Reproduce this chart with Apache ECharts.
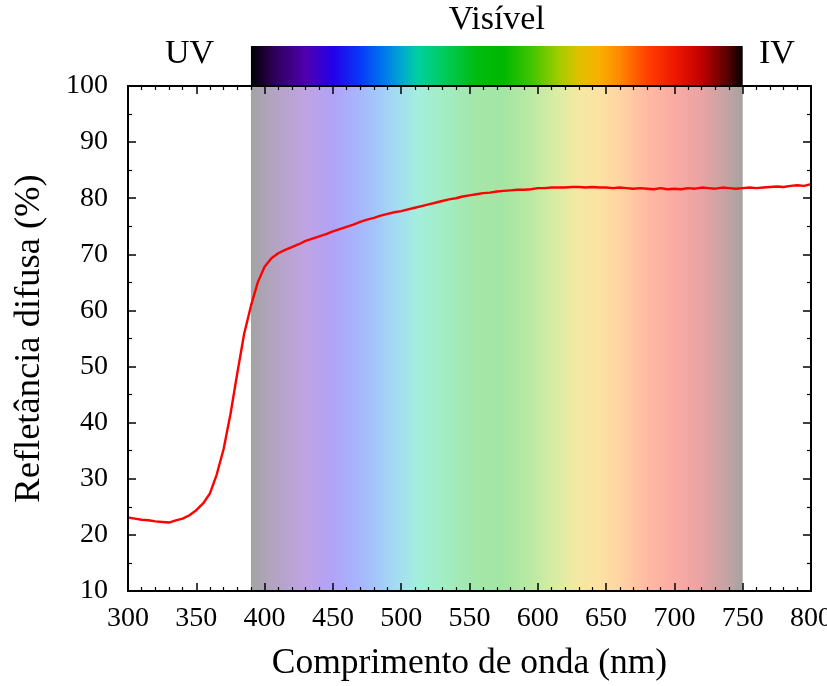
<!DOCTYPE html>
<html>
<head>
<meta charset="utf-8">
<script src="https://cdn.jsdelivr.net/npm/echarts@6/dist/echarts.min.js"></script>
<style>html,body{margin:0;padding:0;background:#fff}#c{width:827px;height:686px}</style>
</head>
<body>
<div id="c"></div>
<script>
// Wavelength (nm)
const wavelengths = [300,305,310,315,320,325,330,335,340,345,350,355,360,365,370,375,380,385,390,395,
400,405,410,415,420,425,430,435,440,445,450,455,460,465,470,475,480,485,490,495,
500,505,510,515,520,525,530,535,540,545,550,555,560,565,570,575,580,585,590,595,
600,605,610,615,620,625,630,635,640,645,650,655,660,665,670,675,680,685,690,695,
700,705,710,715,720,725,730,735,740,745,750,755,760,765,770,775,780,785,790,795,800];
// Diffuse reflectance (%)
const reflectance = [23.1,22.9,22.7,22.6,22.4,22.3,22.2,22.6,22.9,23.5,24.4,25.6,27.4,30.8,35.3,41.5,48.8,55.8,60.8,65.0,
67.8,69.3,70.2,70.8,71.3,71.8,72.4,72.8,73.2,73.6,74.1,74.5,74.9,75.3,75.8,76.2,76.5,76.9,77.2,77.5,
77.7,78.0,78.3,78.6,78.9,79.2,79.5,79.8,80.0,80.3,80.5,80.7,80.9,81.0,81.2,81.3,81.4,81.5,81.5,81.6,
81.8,81.8,81.9,81.9,81.9,82.0,82.0,81.9,82.0,81.9,81.9,81.8,81.9,81.8,81.7,81.8,81.7,81.6,81.8,81.6,
81.7,81.6,81.8,81.7,81.9,81.8,81.7,81.9,81.8,81.7,81.8,81.9,81.8,81.9,82.0,82.1,82.0,82.2,82.3,82.2,82.5];
// Regions
const regionNames = ['UV','Visível','IV'];
const regionBounds = [[300,390],[390,750],[750,800]];
// Spectrum colour stops (nm, colour)
const spectrumNm = [390,405,430,450,470,485,500,512,530,555,575,595,615,630,645,660,680,700,720,740,750];
const spectrumColors = ['#000000','#2a0050','#5000b0','#2400e8','#0838f8','#0070f0','#00a8d0','#00d0a0','#00cc60','#00bb10','#00b800','#40c400','#a0cc00','#e0c000','#f8b000','#ff8800','#ff4000','#f01800','#c00000','#500000','#000000'];

const FONT = 'Liberation Serif';
const visStart = regionBounds[1][0], visEnd = regionBounds[1][1];
const stops = spectrumNm.map((nm,i)=>({offset:(nm-visStart)/(visEnd-visStart), color:spectrumColors[i]}));
const grad = ()=>({type:'linear',x:0,y:0,x2:1,y2:0,colorStops:stops});

const chart = echarts.init(document.getElementById('c'), null, {renderer:'canvas'});
const axisLine = {show:true, lineStyle:{color:'#000', width:2}};
const xCommon = {type:'value', min:300, max:800, interval:50, z:10,
  axisLine: axisLine, splitLine:{show:false},
  axisTick:{show:true, inside:true, length:8, lineStyle:{color:'#000', width:1.5}},
  minorTick:{show:true, splitNumber:5, length:4, lineStyle:{color:'#000', width:1.2}}};
const yCommon = {type:'value', min:10, max:100, interval:10, z:10,
  axisLine: axisLine, splitLine:{show:false},
  axisTick:{show:true, inside:true, length:8, lineStyle:{color:'#000', width:1.5}},
  minorTick:{show:true, splitNumber:2, length:4, lineStyle:{color:'#000', width:1.2}}};

const labelStyle = {fontFamily:FONT, fontSize:28, color:'#000'};

chart.setOption({
  animation:false,
  backgroundColor:'#fff',
  grid:[
    {left:128, right:16, top:86, bottom:95, outerBoundsMode:'none', containLabel:false},
    {left:128, right:16, top:46, height:40, outerBoundsMode:'none', containLabel:false}
  ],
  xAxis:[
    Object.assign({}, xCommon, {gridIndex:0, position:'bottom',
      axisLabel:Object.assign({margin:14, alignMinLabel:'center', alignMaxLabel:'center'}, labelStyle),
      name:'Comprimento de onda (nm)', nameLocation:'middle', nameGap:55,
      nameTextStyle:{fontFamily:FONT, fontSize:35.5, color:'#000'}}),
    Object.assign({}, xCommon, {gridIndex:0, position:'top', axisLabel:{show:false}}),
    {type:'value', gridIndex:1, min:300, max:800, show:false}
  ],
  yAxis:[
    Object.assign({}, yCommon, {gridIndex:0, position:'left',
      axisLabel:Object.assign({margin:20}, labelStyle),
      name:'Refletância difusa (%)', nameLocation:'middle', nameGap:80,
      nameTextStyle:{fontFamily:FONT, fontSize:36.5, color:'#000'}}),
    Object.assign({}, yCommon, {gridIndex:0, position:'right', axisLabel:{show:false}}),
    {type:'value', gridIndex:1, min:0, max:1, show:false}
  ],
  series:[
    {
      type:'line', xAxisIndex:0, yAxisIndex:0, z:5,
      data: wavelengths.map((w,i)=>[w, reflectance[i]]),
      showSymbol:false, symbol:'none',
      lineStyle:{color:'#ff0000', width:2.4},
      markArea:{silent:true, z:1,
        data:[[{xAxis:visStart, itemStyle:{color:grad(), opacity:0.36}}, {xAxis:visEnd}]]}
    },
    {
      type:'line', xAxisIndex:2, yAxisIndex:2, data:[], silent:true,
      markArea:{silent:true,
        data:[
          [{xAxis:regionBounds[0][0], name:regionNames[0], itemStyle:{color:'rgba(0,0,0,0)'},
            label:{show:true, position:'insideTop', distance:0, offset:[0,-9], fontFamily:FONT, fontSize:34, color:'#000'}},
           {xAxis:regionBounds[0][1]}],
          [{xAxis:regionBounds[1][0], name:regionNames[1], itemStyle:{color:grad(), opacity:1},
            label:{show:true, position:'top', distance:9, fontFamily:FONT, fontSize:34, color:'#000'}},
           {xAxis:regionBounds[1][1]}],
          [{xAxis:regionBounds[2][0], name:regionNames[2], itemStyle:{color:'rgba(0,0,0,0)'},
            label:{show:true, position:'insideTop', distance:0, offset:[0,-9], fontFamily:FONT, fontSize:34, color:'#000'}},
           {xAxis:regionBounds[2][1]}]
        ]}
    }
  ]
});
</script>
</body>
</html>
